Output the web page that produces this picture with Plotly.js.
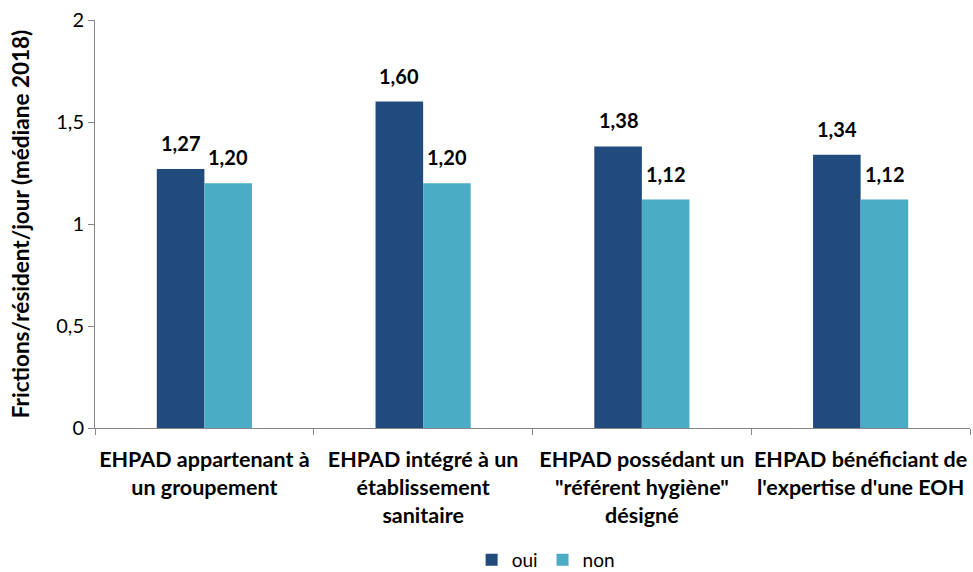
<!DOCTYPE html>
<html><head><meta charset="utf-8">
<script src="https://cdn.plot.ly/plotly-3.0.1.min.js"></script>
<style>html,body{margin:0;padding:0;background:#fff}</style>
</head><body>
<div id="chart" style="width:973px;height:572px"></div>
<script>
const categories = [
  "EHPAD appartenant à<br>un groupement",
  "EHPAD intégré à un<br>établissement<br>sanitaire",
  "EHPAD possédant un<br>\"référent hygiène\"<br>désigné",
  "EHPAD bénéficiant de<br>l'expertise d'une EOH"
];
const seriesNames = ["oui", "non"];
const ouiValues = [1.27, 1.60, 1.38, 1.34];
const nonValues = [1.20, 1.20, 1.12, 1.12];
const yTicks = [0, 0.5, 1, 1.5, 2];

const FONT = "Lato, 'Open Sans', sans-serif";
const BARGAP = 0.565;
const half = (1 - BARGAP) / 4;

const traces = [
  {type: "bar", name: seriesNames[0], x: categories, y: ouiValues,
   marker: {color: "#214A7D"}, hoverinfo: "none"},
  {type: "bar", name: seriesNames[1], x: categories, y: nonValues,
   marker: {color: "#4BACC6"}, hoverinfo: "none"}
];

const fmt = v => v.toFixed(2).replace(".", ",");
const annotations = [];
[ouiValues, nonValues].forEach((vals, s) => {
  vals.forEach((v, i) => {
    annotations.push({
      xref: "x", yref: "y", x: i + (s === 0 ? -half : half), y: v,
      text: "<b>" + fmt(v) + "</b>", showarrow: false,
      xanchor: "center", yanchor: "middle", yshift: 26,
      font: {family: FONT, size: 20, color: "#000"}
    });
  });
});

const layout = {
  width: 973, height: 572,
  margin: {l: 95, r: 3, t: 20, b: 144},
  paper_bgcolor: "#fff", plot_bgcolor: "#fff",
  separators: ",.",
  barmode: "group", bargap: BARGAP, bargroupgap: 0,
  font: {family: FONT, size: 18, color: "#000"},
  annotations: annotations,
  xaxis: {
    showgrid: false, showline: true, linecolor: "#868686", linewidth: 1,
    ticks: "outside", tickson: "boundaries", ticklen: 6, tickcolor: "#868686",
    tickfont: {family: FONT, size: 21.5, color: "#000", weight: "bold"},
    tickangle: 0, ticklabelstandoff: 12,
    automargin: false
  },
  yaxis: {
    range: [0, 2], tickvals: yTicks, showgrid: false, zeroline: false,
    showline: true, linecolor: "#868686", linewidth: 1,
    ticks: "outside", ticklen: 6, tickcolor: "#868686",
    tickfont: {family: FONT, size: 20, color: "#000"},
    title: {text: "<b>Frictions/résident/jour (médiane 2018)</b>",
            font: {family: FONT, size: 22.5, color: "#000"}, standoff: 20},
    automargin: false
  },
  showlegend: true,
  legend: {orientation: "h", x: 0.515, xanchor: "center", xref: "paper",
           y: 0.021, yanchor: "middle", yref: "container",
           font: {family: FONT, size: 19, color: "#000"}, traceorder: "normal"}
};

Plotly.newPlot("chart", traces, layout, {displayModeBar: false, staticPlot: true});
</script>
</body></html>
